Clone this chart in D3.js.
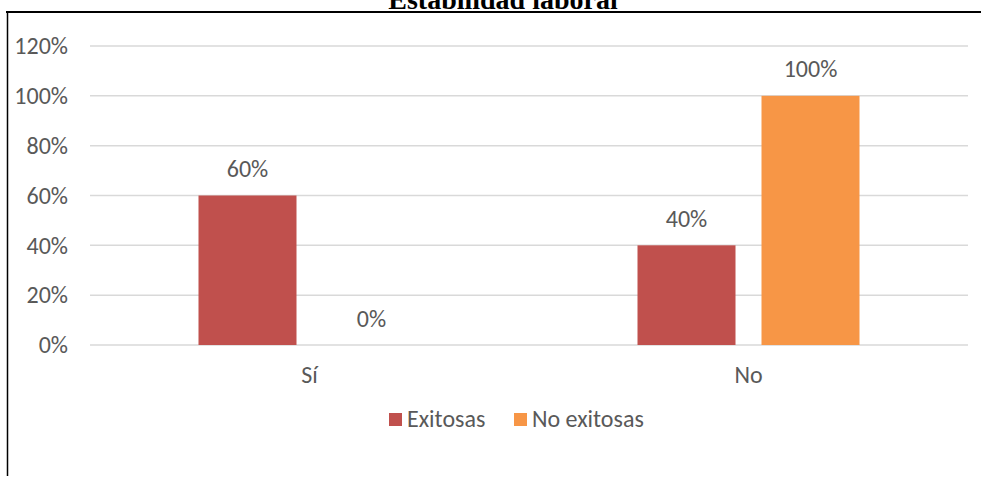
<!DOCTYPE html>
<html>
<head>
<meta charset="utf-8">
<script src="https://cdn.jsdelivr.net/npm/d3@7/dist/d3.min.js"></script>
<style>
  html, body { margin: 0; padding: 0; background: #fff; }
  svg { display: block; }
</style>
</head>
<body>
<svg id="chart" width="981" height="477"></svg>
<script>
// Chart data
const categories = ["Sí", "No"];
const seriesNames = ["Exitosas", "No exitosas"];
const exitosas = [0.60, 0.40];
const noExitosas = [0.00, 1.00];
const yTicks = [0, 0.2, 0.4, 0.6, 0.8, 1.0, 1.2];
const title = "Estabilidad laboral";

const colors = ["#C0504D", "#F79646"];
const textColor = "#595959";
const font = "Calibri, Carlito, 'Open Sans', sans-serif";
const fs = 24;

const svg = d3.select("#chart");
const W = 981, H = 477;

// Frame lines and title
svg.append("text").attr("x", 503).attr("y", 9).attr("text-anchor", "middle")
  .attr("font-family", "'Liberation Serif', 'Times New Roman', serif")
  .attr("font-weight", "bold").attr("font-size", 28).attr("fill", "#000")
  .text(title);
svg.append("line").attr("x1", 6).attr("x2", W).attr("y1", 12).attr("y2", 12)
  .attr("stroke", "#000").attr("stroke-width", 2);
svg.append("line").attr("x1", 7.5).attr("x2", 7.5).attr("y1", 12).attr("y2", 476)
  .attr("stroke", "#000").attr("stroke-width", 1.5);

// Plot area
const plot = { left: 90, right: 968, top: 46, bottom: 345 };

const x0 = d3.scaleBand().domain(categories).range([plot.left, plot.right]).padding(0);
const inner = 222; // width of the two bars plus the gap between them
const x1 = d3.scaleBand().domain(seriesNames).range([0, inner]).paddingInner(26 / 124).paddingOuter(0);
const y = d3.scaleLinear().domain([0, 1.2]).range([plot.bottom, plot.top]);

// Gridlines
svg.append("g").selectAll("line").data(yTicks).join("line")
  .attr("x1", plot.left).attr("x2", plot.right)
  .attr("y1", d => y(d)).attr("y2", d => y(d))
  .attr("stroke", "#D9D9D9").attr("stroke-width", 1.5);

// Y axis labels
const yAxis = d3.axisLeft(y).tickValues(yTicks).tickFormat(d3.format(".0%")).tickSize(0).tickPadding(0);
const gy = svg.append("g").attr("transform", `translate(68,0)`).call(yAxis);
gy.select(".domain").remove();
gy.selectAll("text").attr("font-family", font).attr("font-size", fs).attr("fill", textColor);

// X axis labels
const xAxis = d3.axisBottom(x0).tickSize(0).tickPadding(0);
const gx = svg.append("g").attr("transform", `translate(0,366)`).call(xAxis);
gx.select(".domain").remove();
gx.selectAll("text").attr("font-family", font).attr("font-size", fs).attr("fill", textColor);

// Bars
const rows = categories.map((c, i) => ({ cat: c, vals: [exitosas[i], noExitosas[i]] }));
const groups = svg.append("g").selectAll("g").data(rows).join("g")
  .attr("transform", d => `translate(${x0(d.cat) + (x0.bandwidth() - inner) / 2},0)`);

groups.selectAll("rect").data(d => d.vals.map((v, j) => ({ name: seriesNames[j], v, j })))
  .join("rect")
  .attr("x", d => x1(d.name)).attr("width", x1.bandwidth())
  .attr("y", d => y(d.v)).attr("height", d => y(0) - y(d.v))
  .attr("fill", d => colors[d.j]);

groups.selectAll("text.lbl").data(d => d.vals.map((v, j) => ({ name: seriesNames[j], v, j })))
  .join("text").attr("class", "lbl")
  .attr("x", d => x1(d.name) + x1.bandwidth() / 2)
  .attr("y", d => y(d.v) - 18.5)
  .attr("text-anchor", "middle")
  .attr("font-family", font).attr("font-size", fs).attr("fill", textColor)
  .text(d => d3.format(".0%")(d.v));

// Legend
const legend = svg.append("g");
const legendItems = [{ name: seriesNames[0], x: 389 }, { name: seriesNames[1], x: 514 }];
legendItems.forEach((it, i) => {
  legend.append("rect").attr("x", it.x).attr("y", 413).attr("width", 13).attr("height", 13)
    .attr("fill", colors[i]);
  legend.append("text").attr("x", it.x + 18).attr("y", 427)
    .attr("font-family", font).attr("font-size", fs).attr("fill", textColor)
    .text(it.name);
});
</script>
</body>
</html>
